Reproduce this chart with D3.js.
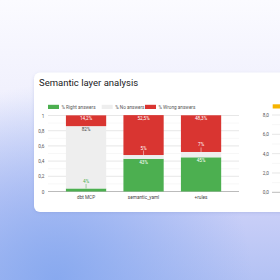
<!DOCTYPE html>
<html>
<head>
<meta charset="utf-8">
<script src="https://cdn.jsdelivr.net/npm/d3@7"></script>
<style>
  html, body { margin: 0; padding: 0; width: 280px; height: 280px; overflow: hidden; }
  svg { display: block; }
  text { font-family: Roboto, "Noto Sans", sans-serif; }
</style>
</head>
<body>
<svg id="chart" width="280" height="280"></svg>
<script>
// ---- data ----
const title = "Semantic layer analysis";
const categories = ["dbt MCP", "semantic_yaml", "+rules"];
const seriesNames = ["% Right answers", "% No answers", "% Wrong answers"];
const rightAnswers = [0.04, 0.43, 0.45];
const noAnswers = [0.82, 0.05, 0.07];
const wrongAnswers = [0.142, 0.525, 0.483];
const yTicks = [0, 0.2, 0.4, 0.6, 0.8, 1];
const yMinorTicks = [0.1, 0.3, 0.5, 0.7, 0.9];
const rightChartTicks = [0, 2, 4, 6, 8];
const rightChartMinor = [1, 3, 5, 7];

const colors = ["#4caf50", "#eeeeee", "#d93531"];

const svg = d3.select("#chart");
const defs = svg.append("defs");

// background gradient
const bg = defs.append("linearGradient").attr("id", "bg").attr("x1", 0).attr("y1", 0).attr("x2", 0).attr("y2", 1);
bg.append("stop").attr("offset", "0").attr("stop-color", "#fbfbff");
bg.append("stop").attr("offset", "0.35").attr("stop-color", "#f0f0fd");
bg.append("stop").attr("offset", "0.72").attr("stop-color", "#cdd1f8");
bg.append("stop").attr("offset", "1").attr("stop-color", "#b3c2f4");
svg.append("rect").attr("width", 280).attr("height", 280).attr("fill", "url(#bg)");
const rg = defs.append("radialGradient").attr("id", "blue").attr("cx", 0.2).attr("cy", 1).attr("r", 0.7);
rg.append("stop").attr("offset", "0").attr("stop-color", "#86a8ef").attr("stop-opacity", 0.95);
rg.append("stop").attr("offset", "1").attr("stop-color", "#86a8ef").attr("stop-opacity", 0);
svg.append("rect").attr("width", 280).attr("height", 280).attr("fill", "url(#blue)");

// card
const sh = defs.append("filter").attr("id", "sh").attr("x", -0.1).attr("y", -0.1).attr("width", 1.2).attr("height", 1.3);
sh.append("feDropShadow").attr("dx", 0).attr("dy", 1).attr("stdDeviation", 1.5).attr("flood-color", "#7080c0").attr("flood-opacity", 0.25);
svg.append("rect").attr("x", 34).attr("y", 72.5).attr("width", 270).attr("height", 139.5)
  .attr("rx", 6).attr("fill", "#ffffff").attr("filter", "url(#sh)");

// title
svg.append("text").attr("x", 39).attr("y", 86).attr("font-size", 9.5).attr("fill", "#202124")
  .text(title);

// scales
const y = d3.scaleLinear().domain([0, 1]).range([191.5, 115.5]);
const x = d3.scaleBand().domain(categories).range([57.3, 229.8]).paddingInner(0.3).paddingOuter(0.15);
const gridL = 48, gridR = 239;

// legend
const legendX = [48, 101.7, 145];
seriesNames.forEach((s, i) => {
  svg.append("rect").attr("x", legendX[i]).attr("y", 104.8).attr("width", 11).attr("height", 4.2).attr("fill", colors[i]);
  svg.append("text").attr("x", legendX[i] + 13.5).attr("y", 108.6).attr("font-size", 4.7).attr("fill", "#555")
    .text(s);
});

// grid
svg.append("g").selectAll("line.minor").data(yMinorTicks).join("line")
  .attr("x1", gridL).attr("x2", gridR).attr("y1", d => y(d)).attr("y2", d => y(d))
  .attr("stroke", "#f1f1f1").attr("stroke-width", 0.6);
svg.append("g").selectAll("line.major").data(yTicks).join("line")
  .attr("x1", gridL).attr("x2", gridR).attr("y1", d => y(d)).attr("y2", d => y(d))
  .attr("stroke", d => d === 0 ? "#9e9e9e" : "#dddddd").attr("stroke-width", 0.7);

// y axis labels
const fmt = d => d === 0 ? "0" : d === 1 ? "1" : d3.format(".1f")(d).replace(".", ",");
const yAxis = d3.axisLeft(y).tickValues(yTicks).tickFormat(fmt).tickSize(0).tickPadding(0);
const ya = svg.append("g").attr("transform", "translate(44.5,0)").call(yAxis);
ya.select(".domain").remove();
ya.selectAll("text").attr("font-size", 4.7).attr("fill", "#555").attr("font-family", "Roboto, sans-serif");

// stacked bars
const table = categories.map((c, i) => ({ cat: c, r: rightAnswers[i], n: noAnswers[i], w: wrongAnswers[i] }));
const stack = d3.stack().keys(["r", "n", "w"])(table);
const pctFmt = v => (Math.round(v * 1000) / 10).toString().replace(".", ",") + "%";

stack.forEach((layer, li) => {
  svg.append("g").selectAll("rect").data(layer).join("rect")
    .attr("x", d => x(d.data.cat)).attr("width", x.bandwidth())
    .attr("y", d => y(Math.min(d[1], 1.005))).attr("height", d => y(d[0]) - y(Math.min(d[1], 1.005)))
    .attr("fill", colors[li]);
});

// value labels
stack.forEach((layer, li) => {
  layer.forEach((d, ci) => {
    const v = d[1] - d[0];
    const cx = x(d.data.cat) + x.bandwidth() / 2;
    const top = y(Math.min(d[1], 1.005));
    const small = v < 0.1;
    let color;
    if (small) {
      color = li === 0 ? colors[0] : "#ffffff";
      const ly = y(d[1]) - 5.5;
      svg.append("line").attr("x1", cx).attr("x2", cx).attr("y1", ly + 1).attr("y2", y(d[1]))
        .attr("stroke", color).attr("stroke-width", 0.5);
      svg.append("text").attr("x", cx).attr("y", ly).attr("text-anchor", "middle")
        .attr("font-size", 4.7).attr("fill", color).text(pctFmt(v));
    } else {
      color = li === 1 ? "#444444" : "#ffffff";
      svg.append("text").attr("x", cx).attr("y", top + 4.8).attr("text-anchor", "middle")
        .attr("font-size", 4.7).attr("fill", color).text(pctFmt(v));
    }
  });
});

// x axis labels
const xAxis = d3.axisBottom(x).tickSize(0).tickPadding(0);
const xa = svg.append("g").attr("transform", "translate(0,196)").call(xAxis);
xa.select(".domain").remove();
xa.selectAll("text").attr("font-size", 4.7).attr("fill", "#444").attr("font-family", "Roboto, sans-serif");

// second (partially visible) chart
const y2 = d3.scaleLinear().domain([0, 8]).range([192.3, 115]);
svg.append("g").selectAll("line").data(rightChartMinor).join("line")
  .attr("x1", 272).attr("x2", 282).attr("y1", d => y2(d)).attr("y2", d => y2(d))
  .attr("stroke", "#f1f1f1").attr("stroke-width", 0.6);
svg.append("g").selectAll("line").data(rightChartTicks).join("line")
  .attr("x1", 272).attr("x2", 282).attr("y1", d => y2(d)).attr("y2", d => y2(d))
  .attr("stroke", d => d === 0 ? "#9e9e9e" : "#dddddd").attr("stroke-width", 0.7);
const y2Axis = d3.axisLeft(y2).tickValues(rightChartTicks).tickFormat(d => d3.format(".1f")(d).replace(".", ",")).tickSize(0).tickPadding(0);
const y2a = svg.append("g").attr("transform", "translate(269,0)").call(y2Axis);
y2a.select(".domain").remove();
y2a.selectAll("text").attr("font-size", 4.7).attr("fill", "#555").attr("font-family", "Roboto, sans-serif");
svg.append("rect").attr("x", 272.7).attr("y", 104.3).attr("width", 11).attr("height", 4.2).attr("fill", "#f6b400");
</script>
</body>
</html>
